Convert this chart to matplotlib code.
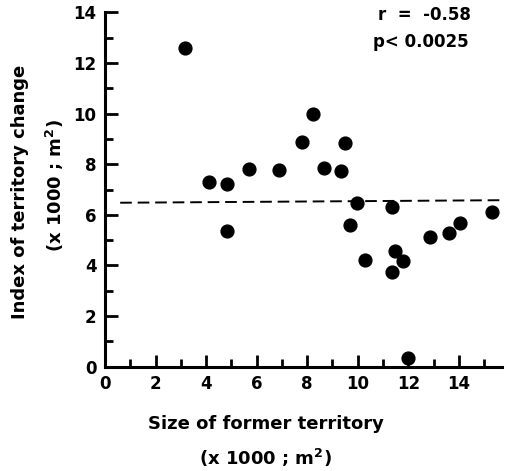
import matplotlib
matplotlib.use("Agg")
import matplotlib.pyplot as plt
from matplotlib.ticker import MultipleLocator

size_former = [3.16, 4.12, 4.81, 4.81, 5.69, 6.88, 7.81, 8.21, 8.67, 9.33, 9.49,
               9.97, 9.70, 10.30, 11.37, 11.48, 11.34, 11.79, 11.99, 12.87, 13.61,
               14.06, 15.32]
index_change = [12.58, 7.29, 7.21, 5.35, 7.81, 7.77, 8.89, 9.97, 7.87, 7.72, 8.85,
                6.46, 5.61, 4.22, 6.30, 4.57, 3.74, 4.19, 0.36, 5.14, 5.30,
                5.67, 6.10]
mean_x = [0.6, 15.7]
mean_y = [6.48, 6.58]
x_ticks = [0, 2, 4, 6, 8, 10, 12, 14]
x_ticklabels = ["0", "2", "4", "6", "8", "10", "12", "14"]
y_ticks = [0, 2, 4, 6, 8, 10, 12, 14]
y_ticklabels = ["0", "2", "4", "6", "8", "10", "12", "14"]

plt.rcParams['font.family'] = ['DejaVu Sans']
fig = plt.figure(figsize=(5.11, 4.71), dpi=100)
ax = fig.add_axes([0.2055, 0.2215, 0.7765, 0.752])

ax.scatter(size_former, index_change, s=85, color='black', zorder=3, clip_on=False)
ax.plot(mean_x, mean_y, color='black', lw=1.4, dashes=(6, 3))

ax.set_xlim(0, 15.7)
ax.set_ylim(0, 14)
for s in ['top', 'right']:
    ax.spines[s].set_visible(False)
for s in ['left', 'bottom']:
    ax.spines[s].set_linewidth(2.2)

ax.set_xticks(x_ticks)
ax.set_xticklabels(x_ticklabels)
ax.set_yticks(y_ticks)
ax.set_yticklabels(y_ticklabels)
ax.xaxis.set_minor_locator(MultipleLocator(1))
ax.yaxis.set_minor_locator(MultipleLocator(1))
ax.tick_params(which='major', direction='in', length=9, width=2, labelsize=12, pad=6)
ax.tick_params(which='minor', direction='in', length=6, width=2)
for lab in ax.get_xticklabels() + ax.get_yticklabels():
    lab.set_fontweight('bold')

ax.text(0.688, 0.993, "r  =  -0.58", transform=ax.transAxes, ha='left', va='center',
        fontsize=12, fontweight='bold')
ax.text(0.675, 0.917, "p< 0.0025", transform=ax.transAxes, ha='left', va='center',
        fontsize=12, fontweight='bold')

fig.text(0.52, 0.10, "Size of former territory", ha='center', va='center',
         fontsize=13, fontweight='bold')
fig.text(0.52, 0.028, "(x 1000 ; m$^{\\mathbf{2}}$)", ha='center', va='center',
         rotation=0, fontsize=13, fontweight='bold')
fig.text(0.04, 0.592, "Index of territory change", ha='center', va='center',
         rotation=90, fontsize=13, fontweight='bold')
fig.text(0.108, 0.607, "(x 1000 ; m$^{\\mathbf{2}}$)", ha='center', va='center',
         rotation=90, fontsize=13, fontweight='bold')

fig.savefig("out.png", dpi=100)
